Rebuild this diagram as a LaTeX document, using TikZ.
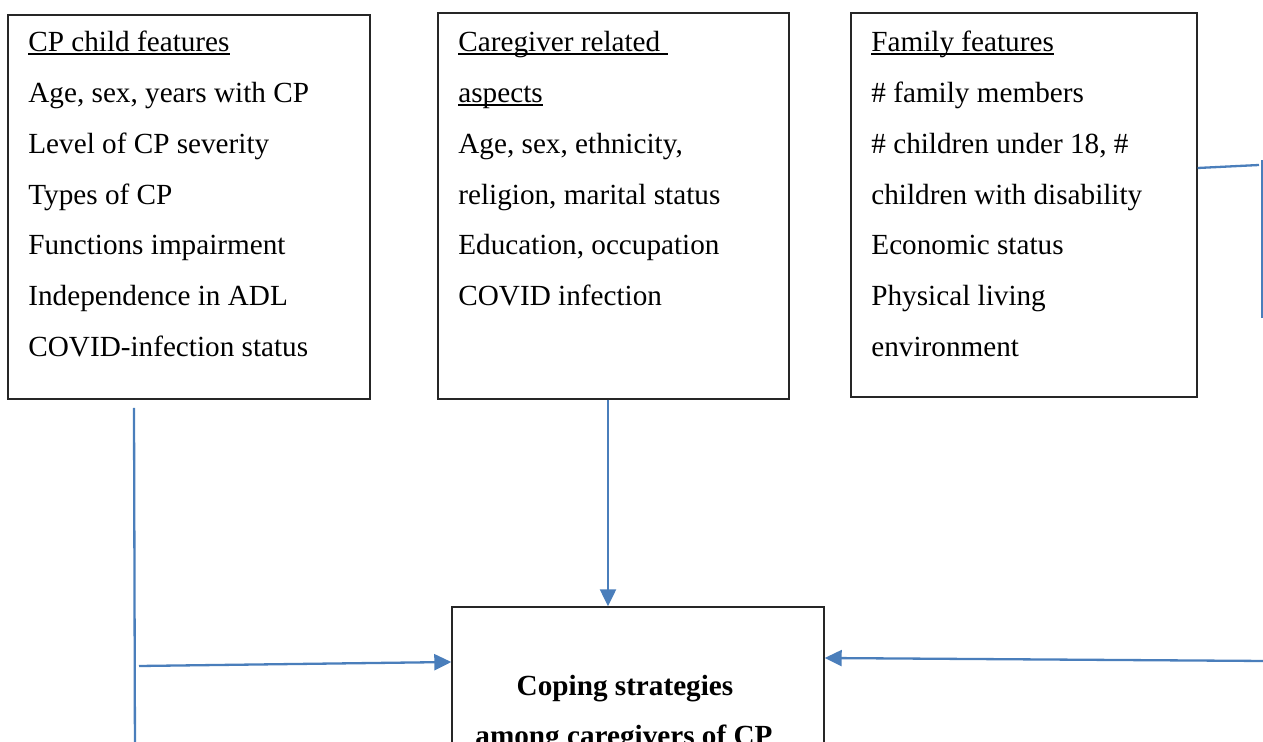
\documentclass[tikz,border=0pt]{standalone}
\usepackage{fontspec}
\setmainfont{Liberation Serif}
\usetikzlibrary{arrows.meta,fit}
\definecolor{linkblue}{HTML}{4A7EBB}
\definecolor{framegray}{HTML}{262626}

\begin{document}
\begin{tikzpicture}[x=0.5pt,y=-0.5pt,
  panel/.style={draw=framegray, line width=0.7pt, inner sep=0pt},
  item/.style={anchor=base west, inner sep=0pt, font=\fontsize{14.6}{17}\selectfont},
  title/.style={anchor=base, inner sep=0pt, font=\fontsize{14.6}{17}\selectfont\bfseries},
  rulestroke/.style={draw=black, line width=0.75pt},
  link/.style={draw=linkblue, line width=1.15pt},
  arrowlink/.style={link, -{Triangle[length=8.5pt,width=8pt]}}
]
\path[use as bounding box] (0,0) rectangle (1263,742);
\clip (0,0) rectangle (1263,742);

% the four boxes
\node[panel, fit={(8,15) (370,399)}] (child) {};
\node[panel, fit={(438,13) (789,399)}] (care) {};
\node[panel, fit={(851,13) (1197,397)}] (family) {};
\node[panel, fit={(452,607) (824,900)}] (outcome) {};

% CP child features
\node[item] (c0) at (28,52.0)  {CP child features};
\node[item] (c1) at (28,102.7) {Age, sex, years with CP};
\node[item] (c2) at (28,153.4) {Level of CP severity};
\node[item] (c3) at (28,204.1) {Types of CP};
\node[item] (c4) at (28,254.8) {Functions impairment};
\node[item] (c5) at (28,305.5) {Independence in ADL};
\node[item] (c6) at (28,356.2) {COVID-infection status};

% caregiver related aspects
\node[item] (g0) at (458,52.0)  {Caregiver related\ \null};
\node[item] (g1) at (458,102.7) {aspects};
\node[item] (g2) at (458,153.4) {Age, sex, ethnicity,};
\node[item] (g3) at (458,204.1) {religion, marital status};
\node[item] (g4) at (458,254.8) {Education, occupation};
\node[item] (g5) at (458,305.5) {COVID infection};

% family features
\node[item] (f0) at (871,52.0)  {Family features};
\node[item] (f1) at (871,102.7) {\# family members};
\node[item] (f2) at (871,153.4) {\# children under 18, \#};
\node[item] (f3) at (871,204.1) {children with disability};
\node[item] (f4) at (871,254.8) {Economic status};
\node[item] (f5) at (871,305.5) {Physical living};
\node[item] (f6) at (871,356.2) {environment};

% underlined headings
\foreach \h in {c0,g0,g1,f0}
  \draw[rulestroke] ([yshift=-1.1pt]\h.base west) -- ([yshift=-1.1pt]\h.base east);

% outcome
\node[title] (o1) at (625,695)   {Coping strategies};
\node[title] (o2) at (624,745.7) {among caregivers of CP};

% connector end points
\coordinate (midx) at (608,0);
\coordinate (ltop) at (134,408);
\coordinate (lbot) at (135,760);
\coordinate (lin)  at (139,666);
\coordinate (lhit) at (0,662);
\coordinate (fout) at (0,168);
\coordinate (ftop) at (1259,165);
\coordinate (rtop) at (1262,160);
\coordinate (rbot) at (1262,318);
\coordinate (rin)  at (1266,661);
\coordinate (rhit) at (0,658);

% connectors
\draw[arrowlink] (care.south -| midx) -- (outcome.north -| midx);
\draw[link] (ltop) -- (lbot);
\draw[arrowlink] (lin) -- (outcome.west |- lhit);
\draw[link] (family.east |- fout) -- (ftop);
\draw[link] (rtop) -- (rbot);
\draw[arrowlink] (rin) -- (outcome.east |- rhit);
\end{tikzpicture}
\end{document}
